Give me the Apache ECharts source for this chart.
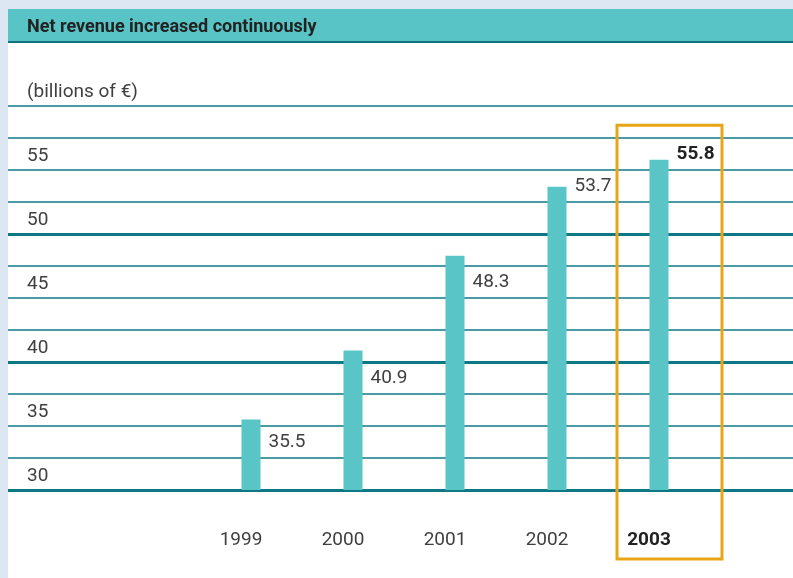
<!DOCTYPE html>
<html>
<head>
<meta charset="utf-8">
<script src="https://cdn.jsdelivr.net/npm/echarts@6/dist/echarts.min.js"></script>
<style>
  html, body { margin: 0; padding: 0; background: #ffffff; }
  #chart { width: 793px; height: 578px; }
</style>
</head>
<body>
<div id="chart"></div>
<script>
// Net revenue by year, billions of euro
const years = ['1999', '2000', '2001', '2002', '2003'];
const revenue = [35.5, 40.9, 48.3, 53.7, 55.8];
// Value-axis tick labels that are printed (the grid itself is drawn every 2.5)
const yTickLabels = [30, 35, 40, 45, 50, 55];
// Gridline band (its lower bound) in which each value label is set
const labelBand = [32.5, 37.5, 45, 52.5, 55];

const FONT = "Roboto, 'Liberation Sans', sans-serif";
const TEAL_LINE = '#0d7884';
const BAR_COLOR = '#5ac5c7';
const Y_MIN = 30, Y_MAX = 60, Y_STEP = 2.5;
const GRID_TOP = 106, GRID_BOTTOM = 88;
const CHART_H = 578;
const BAR_W = 19;
const pxPerUnit = (CHART_H - GRID_TOP - GRID_BOTTOM) / (Y_MAX - Y_MIN);
const lastIdx = years.length - 1;

const chart = echarts.init(document.getElementById('chart'), null, { renderer: 'canvas' });

const barData = revenue.map((v, i) => {
  const isLast = i === lastIdx;
  const mid = labelBand[i] + Y_STEP / 2;
  return {
    value: v,
    label: {
      position: [BAR_W + 8, (v - mid) * pxPerUnit],
      fontWeight: isLast ? 'bold' : 'normal',
      color: isLast ? '#222222' : '#3f3f3f'
    }
  };
});

const option = {
  backgroundColor: '#ffffff',
  animation: false,
  title: [
    {
      text: 'Net revenue increased continuously',
      left: 27, top: 17, padding: 0,
      textStyle: { fontFamily: FONT, fontSize: 18, fontWeight: 'bold', color: '#222222', lineHeight: 20 }
    },
    {
      text: '(billions of €)',
      left: 27, top: 82, padding: 0,
      textStyle: { fontFamily: FONT, fontSize: 19, fontWeight: 'normal', color: '#3f3f3f', lineHeight: 20 }
    }
  ],
  grid: [
    // full-width grid: thin rules every 2.5 plus the value labels
    { left: 8, right: 0, top: GRID_TOP, bottom: GRID_BOTTOM },
    // full-width grid: heavy rules at 30, 40, 50
    { left: 8, right: 0, top: CHART_H - GRID_BOTTOM - 20 * pxPerUnit, bottom: GRID_BOTTOM },
    // bars
    { left: 200, width: 510, top: GRID_TOP, bottom: GRID_BOTTOM }
  ],
  xAxis: [
    { gridIndex: 0, type: 'value', show: false, min: 0, max: 1 },
    { gridIndex: 1, type: 'value', show: false, min: 0, max: 1 },
    {
      gridIndex: 2, type: 'category', data: years, boundaryGap: true,
      axisLine: { show: false }, axisTick: { show: false }, splitLine: { show: false },
      axisLabel: {
        interval: 0, margin: 41, fontFamily: FONT, fontSize: 19, color: '#3f3f3f',
        align: 'center', padding: [0, 20, 0, 0],
        formatter: (v) => v === years[lastIdx] ? '{b|' + v + '}' : v,
        rich: { b: { fontFamily: FONT, fontSize: 19, fontWeight: 'bold', color: '#222222' } }
      }
    }
  ],
  yAxis: [
    {
      gridIndex: 0, type: 'value', min: Y_MIN, max: Y_MAX, interval: Y_STEP,
      axisLine: { show: false }, axisTick: { show: false },
      splitLine: { show: true, lineStyle: { color: TEAL_LINE, width: 1.5 } },
      axisLabel: {
        inside: true, margin: 19, align: 'left', verticalAlign: 'bottom',
        padding: [0, 0, 4, 0],
        fontFamily: FONT, fontSize: 19, color: '#3f3f3f',
        formatter: (v) => yTickLabels.indexOf(v) >= 0 ? String(v) : ''
      }
    },
    {
      gridIndex: 1, type: 'value', min: 30, max: 50, interval: 10,
      axisLine: { show: false }, axisTick: { show: false }, axisLabel: { show: false },
      splitLine: { show: true, lineStyle: { color: TEAL_LINE, width: 3 } }
    },
    {
      gridIndex: 2, type: 'value', min: Y_MIN, max: Y_MAX, show: false,
      splitLine: { show: false }
    }
  ],
  series: [
    {
      type: 'bar', xAxisIndex: 2, yAxisIndex: 2, z: 3,
      data: barData, barWidth: BAR_W,
      itemStyle: { color: BAR_COLOR },
      label: {
        show: true, align: 'left', verticalAlign: 'middle',
        fontFamily: FONT, fontSize: 19,
        formatter: (p) => p.value.toFixed(1)
      }
    }
  ],
  graphic: [
    { type: 'rect', id: 'stripLeft', z: 20, shape: { x: 0, y: 0, width: 8, height: CHART_H }, style: { fill: '#dde7f3' } },
    { type: 'rect', id: 'stripTop', z: 20, shape: { x: 0, y: 0, width: 793, height: 9 }, style: { fill: '#dde7f3' } },
    { type: 'rect', id: 'header', z: 1, shape: { x: 8, y: 9, width: 785, height: 32 }, style: { fill: '#58c4c6' } },
    { type: 'line', id: 'headerRule', z: 2, shape: { x1: 8, y1: 42, x2: 793, y2: 42 }, style: { stroke: '#0f7480', lineWidth: 2 } }
  ]
};

chart.setOption(option);

// Frame around the latest year, placed from its category position
const cx = chart.convertToPixel({ xAxisIndex: 2 }, lastIdx);
const boxTop = chart.convertToPixel({ yAxisIndex: 2 }, 58.5);
chart.setOption({
  graphic: [
    {
      type: 'rect', id: 'highlight', z: 30,
      shape: { x: cx - 42, y: boxTop, width: 105, height: 559 - boxTop },
      style: { fill: 'none', stroke: '#e8a515', lineWidth: 3 }
    }
  ]
});
</script>
</body>
</html>
